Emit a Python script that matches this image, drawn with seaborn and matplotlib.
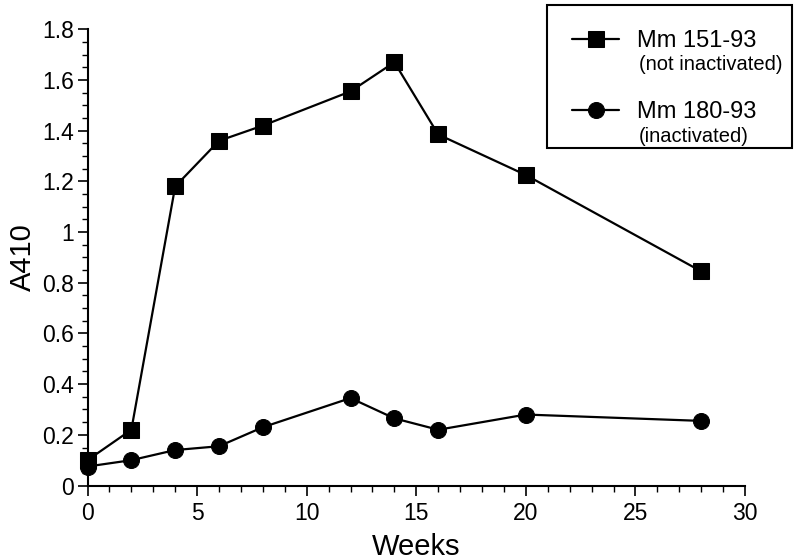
import matplotlib
matplotlib.use("Agg")
import matplotlib.pyplot as plt
import seaborn as sns
import numpy as np
import pandas as pd
from matplotlib.ticker import MultipleLocator, FuncFormatter

weeks_151 = [0, 2, 4, 6, 8, 12, 14, 16, 20, 28]
a410_151 = [0.10, 0.22, 1.18, 1.36, 1.42, 1.555, 1.67, 1.385, 1.225, 0.845]
weeks_180 = [0, 2, 4, 6, 8, 12, 14, 16, 20, 28]
a410_180 = [0.075, 0.10, 0.14, 0.155, 0.23, 0.345, 0.265, 0.22, 0.28, 0.255]

label_151 = "Mm 151-93"
sub_151 = "(not inactivated)"
label_180 = "Mm 180-93"
sub_180 = "(inactivated)"

sns.set_style("ticks")
plt.rcParams['font.family'] = ['Liberation Sans', 'DejaVu Sans']
plt.rcParams['text.color'] = 'black'
plt.rcParams['axes.labelcolor'] = 'black'

fig = plt.figure(figsize=(8, 5.6), dpi=100)
ax = fig.add_axes([0.1094, 0.133, 0.8219, 0.8147])

df1 = pd.DataFrame({"Weeks": weeks_151, "A410": a410_151})
df2 = pd.DataFrame({"Weeks": weeks_180, "A410": a410_180})

sns.lineplot(data=df1, x="Weeks", y="A410", ax=ax, color="black", marker="s",
             markersize=11, linewidth=1.6, markeredgecolor="black",
             label=label_151, clip_on=False, zorder=3)
sns.lineplot(data=df2, x="Weeks", y="A410", ax=ax, color="black", marker="o",
             markersize=11.5, linewidth=1.6, markeredgecolor="black",
             label=label_180, clip_on=False, zorder=3)

ax.set_xlim(0, 30)
ax.set_ylim(0, 1.8)
ax.xaxis.set_major_locator(MultipleLocator(5))
ax.xaxis.set_minor_locator(MultipleLocator(1))
ax.yaxis.set_major_locator(MultipleLocator(0.2))
ax.yaxis.set_minor_locator(MultipleLocator(0.05))
ax.yaxis.set_major_formatter(FuncFormatter(lambda v, p: f"{v:g}"))

sns.despine(ax=ax)
for s in ["left", "bottom"]:
    ax.spines[s].set_linewidth(1.5)
    ax.spines[s].set_color("black")

ax.tick_params(which="major", length=7.2, width=1.2, color="black",
               labelsize=16.5, labelcolor="black")
ax.tick_params(which="minor", length=4, width=1.0, color="black")
ax.tick_params(axis="x", which="major", pad=4.8)
ax.tick_params(axis="y", which="major", pad=2.4)

ax.set_xlabel("Weeks", fontsize=21, labelpad=5.5, color="black")
ax.set_ylabel("A410", fontsize=21, labelpad=4, color="black")

leg = ax.legend(loc="upper left", bbox_to_anchor=(0.684, 0.741, 0.306, 0.25),
                mode="expand",
                bbox_transform=fig.transFigure, frameon=True, fancybox=False,
                edgecolor="black", fontsize=17, handlelength=2.0,
                handletextpad=0.75, labelspacing=2.1, borderpad=1.05,
                borderaxespad=0, markerscale=1.0)
leg.get_frame().set_linewidth(1.5)
leg.get_frame().set_alpha(1)
for t in leg.get_texts():
    t.set_color("black")

fig.canvas.draw()
renderer = fig.canvas.get_renderer()
inv = fig.transFigure.inverted()
for t, sub in zip(leg.get_texts(), [sub_151, sub_180]):
    bb = t.get_window_extent(renderer)
    x0, y0 = inv.transform((bb.x0, bb.y0))
    fig.text(x0 + 0.002, y0 - 0.006, sub, fontsize=14.5, va="top", ha="left",
             color="black")

fig.savefig("out.png", dpi=100)
